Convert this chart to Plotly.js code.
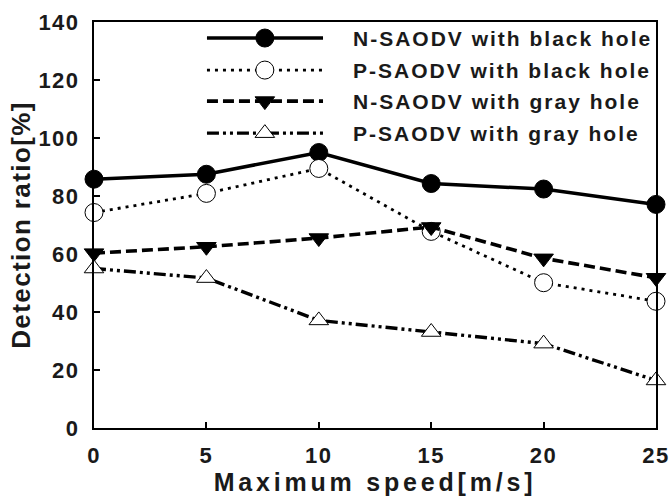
<!DOCTYPE html>
<html>
<head>
<meta charset="utf-8">
<script src="https://cdn.plot.ly/plotly-3.0.1.min.js"></script>
<style>html,body{margin:0;padding:0;background:#fff;}</style>
</head>
<body>
<div id="chart" style="width:671px;height:498px;"></div>
<script>
// ---- data ----
var speeds = [0, 5, 10, 15, 20, 25];
var seriesNames = ["N-SAODV with black hole", "P-SAODV with black hole", "N-SAODV with gray hole", "P-SAODV with gray hole"];
var nBlack = [85.8, 87.5, 95.0, 84.3, 82.4, 77.1];
var pBlack = [74.3, 80.9, 89.5, 67.8, 50.1, 43.7];
var nGray  = [60.3, 62.5, 65.5, 69.3, 58.5, 51.8];
var pGray  = [55.0, 51.7, 37.1, 33.1, 29.1, 16.4];
var xTicks = [0, 5, 10, 15, 20, 25];
var yTicks = [0, 20, 40, 60, 80, 100, 120, 140];

// ---- styles ----
var FONT = "Liberation Sans, Arial, sans-serif";
var TXT = "#1a1a1a";
var styles = [
  {dash: "solid", width: 3.5, symbol: "circle", fill: "black", size: 18},
  {dash: "3px,5px", width: 2.8, symbol: "circle", fill: "white", size: 18},
  {dash: "11px,5px", width: 3.6, symbol: "triangle-down", fill: "black", size: 17},
  {dash: "12px,4px,3px,4px,3px,4px", width: 3.4, symbol: "triangle-up", fill: "white", size: 17}
];
var values = [nBlack, pBlack, nGray, pGray];

function sp(txt, ls) { return '<span style="letter-spacing:' + ls + 'px">' + txt + '</span>'; }

var traces = values.map(function (v, i) {
  var s = styles[i];
  return {
    x: speeds, y: v, type: "scatter", mode: "lines+markers", name: seriesNames[i],
    cliponaxis: false, showlegend: false,
    line: {color: "black", width: s.width, dash: s.dash},
    marker: {symbol: s.symbol, size: s.size, color: s.fill, line: {color: "black", width: 1}}
  };
});

// ---- custom legend (long sample lines like the reference) ----
var legY = [0.9605, 0.8816, 0.8052, 0.7262];
var legX0 = 0.201, legX1 = 0.4075, legXm = 0.304, legTx = 0.457;
var shapes = [];
var annotations = [];
legY.forEach(function (yy, i) {
  var s = styles[i];
  shapes.push({type: "line", xref: "paper", yref: "paper", x0: legX0, x1: legX1, y0: yy, y1: yy,
    line: {color: "black", width: s.width, dash: s.dash}});
  var r = s.size / 2;
  if (s.symbol === "circle") {
    shapes.push({type: "circle", xref: "paper", yref: "paper", xsizemode: "pixel", ysizemode: "pixel",
      xanchor: legXm, yanchor: yy, x0: -r, x1: r, y0: -r, y1: r,
      fillcolor: s.fill, line: {color: "black", width: 1}});
  } else {
    var rt = r * 2 / Math.sqrt(3), r2 = r / 2;
    var path = s.symbol === "triangle-down"
      ? "M" + (-rt) + "," + r2 + " L" + rt + "," + r2 + " L0," + (-r) + " Z"
      : "M" + (-rt) + "," + (-r2) + " L" + rt + "," + (-r2) + " L0," + r + " Z";
    shapes.push({type: "path", xref: "paper", yref: "paper", xsizemode: "pixel", ysizemode: "pixel",
      xanchor: legXm, yanchor: yy, path: path,
      fillcolor: s.fill, line: {color: "black", width: 1}});
  }
  annotations.push({xref: "paper", yref: "paper", x: legTx, y: yy, xanchor: "left", yanchor: "middle",
    showarrow: false, text: sp(seriesNames[i], 2.0),
    font: {family: FONT, size: 21, color: TXT, weight: "bold"}});
});

var layout = {
  width: 671, height: 498,
  margin: {l: 94, r: 15, t: 22, b: 70, pad: 0},
  paper_bgcolor: "white", plot_bgcolor: "white",
  showlegend: false,
  font: {family: FONT, color: TXT},
  xaxis: {
    range: [0, 25], tickvals: xTicks, ticktext: xTicks.map(function (t) { return sp(t, 1.5); }),
    ticks: "inside", ticklen: 6, tickwidth: 2, tickcolor: "black",
    showline: true, linewidth: 2, linecolor: "black", mirror: true,
    showgrid: false, zeroline: false, ticklabelstandoff: 7,
    tickfont: {family: FONT, size: 22, color: TXT, weight: "bold"},
    title: {text: sp("Maximum speed[m/s]", 3.8), standoff: 3,
      font: {family: FONT, size: 25, color: TXT, weight: "bold"}}
  },
  yaxis: {
    range: [0, 140], tickvals: yTicks, ticktext: yTicks.map(function (t) { return sp(t, 1.5); }),
    ticks: "inside", ticklen: 6, tickwidth: 2, tickcolor: "black",
    showline: true, linewidth: 2, linecolor: "black", mirror: true,
    showgrid: false, zeroline: false, ticklabelstandoff: 8,
    tickfont: {family: FONT, size: 22, color: TXT, weight: "bold"},
    title: {text: sp("Detection ratio[%]", 1.4), standoff: 0,
      font: {family: FONT, size: 26, color: TXT, weight: "bold"}}
  },
  shapes: shapes,
  annotations: annotations
};

Plotly.newPlot("chart", traces, layout, {staticPlot: true, displayModeBar: false});
</script>
</body>
</html>
